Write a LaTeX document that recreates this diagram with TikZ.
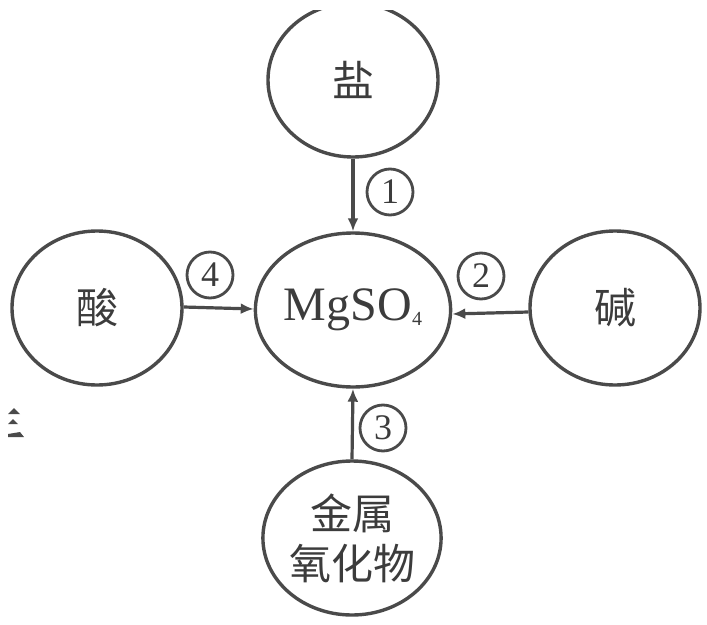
\documentclass[tikz,border=0pt]{standalone}
\usepackage{fontspec}
\setmainfont{Liberation Serif}
\newfontfamily\cjk{Noto Sans CJK SC}
\usetikzlibrary{shapes.geometric,arrows.meta}
\definecolor{ink}{HTML}{4A4A4A}
\definecolor{txt}{HTML}{3C3C3C}
\tikzset{
  blob/.style={ellipse,draw=ink,line width=3.4pt,minimum width=170pt,minimum height=154pt,inner sep=0pt,text=txt},
  cjktext/.style={font=\cjk\fontsize{42}{50}\selectfont},
  num/.style={circle,draw=ink,line width=2.8pt,minimum size=46pt,inner sep=0pt,text=txt,font=\fontsize{36}{36}\selectfont},
  conn/.style={draw=ink,line width=3.2pt,-{Latex[length=13pt,width=11pt]}}
}
\begin{document}
\begin{tikzpicture}[x=1pt,y=-1pt]
\useasboundingbox (0,0) rectangle (707,624);
\begin{scope}
\clip (0,10) rectangle (707,624);
\node[blob,cjktext] (salt) at (353,80) {盐};
\end{scope}
\node[blob,font=\fontsize{48}{48}\selectfont] (mg) at (353,310) {MgSO\raisebox{-5pt}{\fontsize{20}{20}\selectfont 4}};
\node[blob,cjktext] (acid) at (97,308) {酸};
\node[blob,cjktext] (base) at (615,308) {碱};
\node[blob,cjktext,align=center] (oxide) at (352,538) {金属\\氧化物};
\draw[conn] (salt.south) -- (mg.north);
\draw[conn] ([yshift=-4pt]base.west) -- ([yshift=-4pt]mg.east);
\draw[conn] (oxide.north) -- (mg.south);
\draw[conn] ([yshift=1pt]acid.east) -- ([yshift=1pt]mg.west);
\node[num] (n1) at (390,192) {1};
\node[num] (n2) at (481,276) {2};
\node[num] (n3) at (383,428) {3};
\node[num] (n4) at (210,275) {4};
\fill[ink] (8,414) -- (14,408) -- (20,414) -- cycle;
\fill[ink] (8,424) -- (13,419) -- (18,424) -- cycle;
\fill[ink] (8,437) -- (24,437) -- (20,432) -- (8,434) -- cycle;
\end{tikzpicture}
\end{document}
